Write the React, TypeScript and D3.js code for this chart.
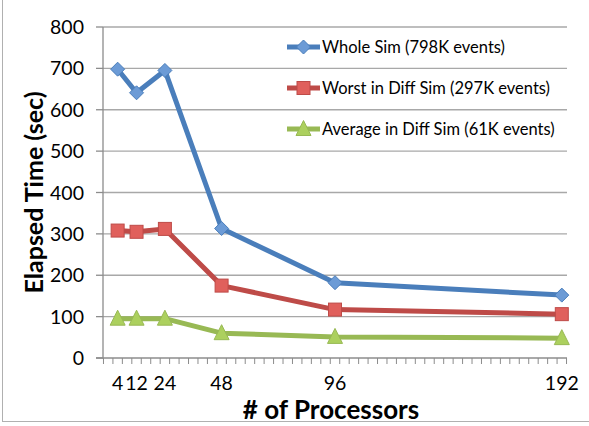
import React from "react";
import * as d3 from "d3";

const processors = [4, 12, 24, 48, 96, 192];
const wholeSim = [698, 641, 695, 313, 182, 152];
const worstDiff = [308, 305, 312, 175, 117, 106];
const avgDiff = [95, 95, 95, 60, 51, 48];
const yTicks = [0, 100, 200, 300, 400, 500, 600, 700, 800];
const seriesNames = [
  "Whole Sim (798K events)",
  "Worst in Diff Sim (297K events)",
  "Average in Diff Sim (61K events)",
];
const seriesColors = ["#4a7ebb", "#be4b48", "#98b954"];
const markerFills = ["#6c9bd6", "#e0605c", "#acd05e"];

const W = 589;
const H = 426;
const left = 103;
const right = 567;
const top = 27;
const bottom = 358;

const font = "Lato, 'Open Sans', sans-serif";

function Marker({ kind, x, y, color, fill }: { kind: number; x: number; y: number; color: string; fill: string }) {
  if (kind === 0) {
    const s = 7;
    return (
      <path
        d={`M${x},${y - s}L${x + s},${y}L${x},${y + s}L${x - s},${y}Z`}
        fill={fill}
        stroke={color}
        strokeWidth={1}
      />
    );
  }
  if (kind === 1) {
    const s = 6.5;
    return <rect x={x - s} y={y - s} width={2 * s} height={2 * s} fill={fill} stroke={color} strokeWidth={1} />;
  }
  const s = 7.5;
  return (
    <path
      d={`M${x},${y - s - 1}L${x + s},${y + s - 1}L${x - s},${y + s - 1}Z`}
      fill={fill}
      stroke={color}
      strokeWidth={1}
    />
  );
}

export default function App() {
  const x = d3.scaleLinear().domain([-2.2, 194.2]).range([left, right]);
  const y = d3.scaleLinear().domain([0, 800]).range([bottom, top]);
  const minorTicks = d3.range(-2, 195, 4);
  const series = [wholeSim, worstDiff, avgDiff];
  const line = d3
    .line<number>()
    .x((_, i) => x(processors[i]))
    .y((d) => y(d));

  const legendY = [47, 88, 129];

  return (
    <svg width={W} height={H} style={{ display: "block", position: "absolute", left: 0, top: 0 }}>
      <rect x={0} y={0} width={W} height={H} fill="#fff" />
      <line x1={2.5} y1={0} x2={2.5} y2={422} stroke="#b0b0b0" strokeWidth={1} />
      <line x1={2.5} y1={421.5} x2={W} y2={421.5} stroke="#b0b0b0" strokeWidth={1} />

      {yTicks.map((t) => (
        <g key={t}>
          {t > 0 && <line x1={left} x2={right} y1={y(t)} y2={y(t)} stroke="#a8a8a8" strokeWidth={1.3} />}
          <line x1={left - 7} x2={left} y1={y(t)} y2={y(t)} stroke="#8c8c8c" strokeWidth={1.3} />
          <text x={84} y={y(t)} dy="0.36em" textAnchor="end" fontFamily={font} fontSize={19.5} fill="#000">
            {t}
          </text>
        </g>
      ))}
      <line x1={left} x2={left} y1={top} y2={bottom} stroke="#8c8c8c" strokeWidth={1.3} />
      <line x1={left - 7} x2={right} y1={bottom} y2={bottom} stroke="#8c8c8c" strokeWidth={1.3} />
      {minorTicks.map((t) => (
        <line key={t} x1={x(t)} x2={x(t)} y1={bottom} y2={bottom + 6} stroke="#8c8c8c" strokeWidth={1} />
      ))}
      {processors.map((p) => (
        <text key={p} x={x(p)} y={390} textAnchor="middle" fontFamily={font} fontSize={19.5} fill="#000">
          {p}
        </text>
      ))}

      {series.map((s, k) => (
        <path
          key={k}
          d={line(s) || ""}
          fill="none"
          stroke={seriesColors[k]}
          strokeWidth={5}
          strokeLinejoin="round"
        />
      ))}
      {series.map((s, k) =>
        s.map((v, i) => (
          <Marker key={`${k}-${i}`} kind={k} x={x(processors[i])} y={y(v)} color={seriesColors[k]} fill={markerFills[k]} />
        ))
      )}

      {seriesNames.map((n, k) => (
        <g key={n}>
          <line x1={287} x2={320} y1={legendY[k]} y2={legendY[k]} stroke={seriesColors[k]} strokeWidth={5} />
          <Marker kind={k} x={303.5} y={legendY[k]} color={seriesColors[k]} fill={markerFills[k]} />
          <text x={322} y={legendY[k]} dy="0.36em" fontFamily={font} fontSize={16.5} fill="#000">
            {n}
          </text>
        </g>
      ))}

      <text
        transform={`translate(43,${(top + bottom) / 2}) rotate(-90)`}
        textAnchor="middle"
        fontFamily={font}
        fontWeight="bold"
        fontSize={25}
        fill="#000"
      >
        Elapsed Time (sec)
      </text>
      <text x={331} y={419} textAnchor="middle" fontFamily={font} fontWeight="bold" fontSize={26} fill="#000">
        # of Processors
      </text>
    </svg>
  );
}
